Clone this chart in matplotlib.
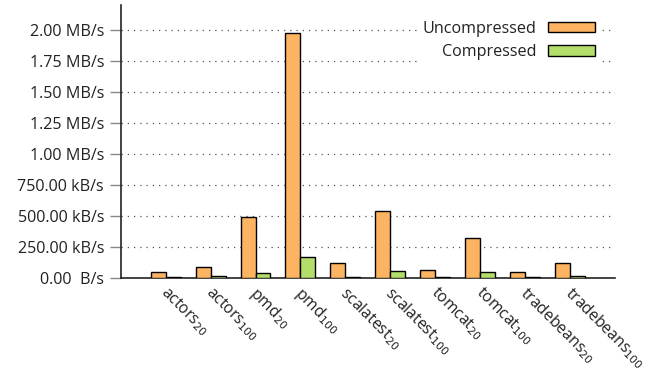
import matplotlib
matplotlib.use("Agg")
import matplotlib.pyplot as plt
import numpy as np
from matplotlib.ticker import FixedLocator
from matplotlib.transforms import ScaledTranslation

plt.rcParams['font.family'] = ['Open Sans', 'DejaVu Sans']

categories = ["actors$_{20}$", "actors$_{100}$", "pmd$_{20}$", "pmd$_{100}$",
              "scalatest$_{20}$", "scalatest$_{100}$", "tomcat$_{20}$", "tomcat$_{100}$",
              "tradebeans$_{20}$", "tradebeans$_{100}$"]
# bytes per second
uncompressed = [48e3, 89e3, 493e3, 1971e3, 121e3, 543e3, 67e3, 323e3, 53e3, 126e3]
compressed = [13e3, 19e3, 40e3, 175e3, 14e3, 56e3, 10e3, 48e3, 7e3, 19e3]
yticks = [0, 250e3, 500e3, 750e3, 1.0e6, 1.25e6, 1.5e6, 1.75e6, 2.0e6]
ytick_labels = ["0.00  B/s", "250.00 kB/s", "500.00 kB/s", "750.00 kB/s", "1.00 MB/s",
                "1.25 MB/s", "1.50 MB/s", "1.75 MB/s", "2.00 MB/s"]

FS = 11.6

fig = plt.figure(figsize=(6.56, 3.73), dpi=100)
ax = fig.add_axes([120.7/656, 1-278.3/373, (615-120.7)/656, (278.3-5)/373])

x = np.arange(len(categories))
w = 1/3
ax.bar(x - w/2, uncompressed, w, color="#fdb462", edgecolor="black", linewidth=1,
       label="Uncompressed", zorder=3)
ax.bar(x + w/2, compressed, w, color="#b3de69", edgecolor="black", linewidth=1,
       label="Compressed", zorder=3)

ax.set_xlim(-1, 10)
ax.set_ylim(0, 2.2e6)
ax.yaxis.set_major_locator(FixedLocator(yticks))
ax.set_yticklabels(ytick_labels, fontsize=FS, color="#222222")
ax.yaxis.grid(True, linestyle=(0, (1, 4)), color="#555555", linewidth=0.9, zorder=0)
ax.set_axisbelow(True)

ax.set_xticks(x)
ax.set_xticklabels(categories, rotation=-45, ha="left", va="top",
                   rotation_mode="anchor", fontsize=11.3, color="#222222")
ax.tick_params(axis="x", length=0, pad=6)
ax.tick_params(axis="y", length=8, width=1, color="#888888", pad=4)
offset = ScaledTranslation(4/100, 3/100, fig.dpi_scale_trans)
for lbl in ax.get_xticklabels():
    lbl.set_transform(lbl.get_transform() + offset)

for s in ["top", "right"]:
    ax.spines[s].set_visible(False)
for s in ["left", "bottom"]:
    ax.spines[s].set_linewidth(1.2)
    ax.spines[s].set_color("#222222")

leg = ax.legend(loc="upper right", bbox_to_anchor=(0.985, 0.99), frameon=True,
                fontsize=FS, markerfirst=False, handlelength=2.9, handleheight=0.65,
                labelspacing=0.45, borderpad=0.3, handletextpad=0.7)
leg.get_frame().set_edgecolor("white")
leg.get_frame().set_facecolor("white")
leg.get_frame().set_alpha(1)
for t in leg.get_texts():
    t.set_ha("right")
    t.set_color("#222222")
leg._legend_box.align = "right"

fig.savefig("out.png", dpi=100)
